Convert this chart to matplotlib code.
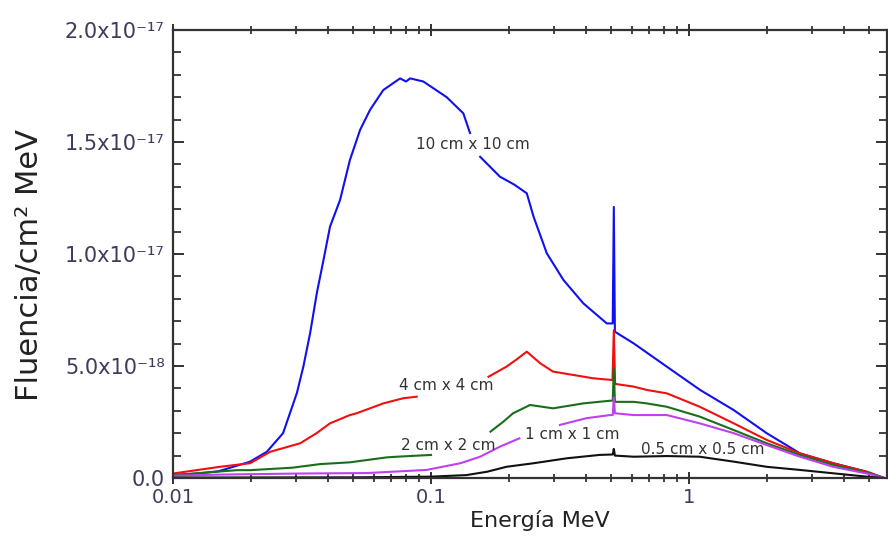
import numpy as np
import matplotlib
matplotlib.use("Agg")
import matplotlib.pyplot as plt
from matplotlib.ticker import MultipleLocator, FixedLocator, FuncFormatter, NullFormatter

nan = np.nan

# Energies in MeV, fluence in units of 1e-17 per cm^2 MeV
e_10 = [0.01, 0.0125, 0.015, 0.0177, 0.0199, 0.0231, 0.0267, 0.0292, 0.0302, 0.032, 0.034,
        0.0361, 0.0383, 0.0406, 0.0444, 0.0485, 0.0531, 0.058, 0.0653, 0.0759, 0.08, 0.083,
        0.0934, 0.115, 0.1334, 0.1416, 0.148, 0.155, 0.185, 0.21, 0.235, 0.2496, 0.281, 0.326,
        0.389, 0.48, 0.506, 0.511, 0.516, 0.61, 0.82, 1.104, 1.486, 2.0, 2.69, 3.62, 4.88, 5.7]
f_10 = [0.013, 0.02, 0.03, 0.055, 0.073, 0.117, 0.2, 0.33, 0.379, 0.497, 0.647,
        0.826, 0.973, 1.122, 1.241, 1.42, 1.554, 1.643, 1.732, 1.784, 1.77, 1.784,
        1.77, 1.70, 1.628, 1.54, nan, 1.434, 1.345, 1.31, 1.271, 1.167, 1.003, 0.884,
        0.78, 0.69, 0.69, 1.21, 0.653, 0.601, 0.497, 0.393, 0.304, 0.2, 0.11, 0.066, 0.028, 0.0]

e_4 = [0.01, 0.0152, 0.0199, 0.0238, 0.028, 0.0311, 0.036, 0.0406, 0.0485, 0.0515, 0.0653,
       0.078, 0.088, 0.12, 0.167, 0.196, 0.215, 0.235, 0.265, 0.297, 0.356, 0.426, 0.505,
       0.511, 0.517, 0.61, 0.686, 0.82, 1.1, 1.49, 2.0, 2.69, 3.62, 4.88, 5.7]
f_4 = [0.02, 0.05, 0.066, 0.117, 0.14, 0.155, 0.2, 0.244, 0.281, 0.289, 0.333,
       0.356, 0.363, nan, 0.452, 0.497, 0.53, 0.564, 0.512, 0.475, 0.46, 0.445, 0.4375,
       0.66, 0.42, 0.408, 0.393, 0.378, 0.318, 0.244, 0.17, 0.11, 0.066, 0.028, 0.0]

e_2 = [0.01, 0.0177, 0.0199, 0.029, 0.0371, 0.0485, 0.0673, 0.0737, 0.1, 0.13, 0.17, 0.19,
       0.208, 0.242, 0.297, 0.389, 0.494, 0.506, 0.511, 0.516, 0.61, 0.686, 0.82, 1.1, 1.49,
       2.0, 2.69, 3.62, 4.88, 5.7]
f_2 = [0.013, 0.035, 0.035, 0.046, 0.062, 0.07, 0.092, 0.095, 0.103, nan, 0.207, 0.25,
       0.289, 0.326, 0.311, 0.333, 0.345, 0.345, 0.49, 0.34, 0.34, 0.333, 0.318, 0.274, 0.214,
       0.155, 0.103, 0.058, 0.024, 0.0]

e_1 = [0.01, 0.015, 0.031, 0.0563, 0.096, 0.13, 0.155, 0.185, 0.22, 0.26, 0.316, 0.40,
       0.494, 0.506, 0.511, 0.516, 0.61, 0.686, 0.82, 1.1, 1.49, 2.0, 2.69, 3.62, 4.88, 5.7]
f_1 = [0.01, 0.015, 0.02, 0.022, 0.036, 0.066, 0.095, 0.14, 0.177, nan, 0.237, 0.267,
       0.281, 0.281, 0.36, 0.289, 0.281, 0.281, 0.281, 0.244, 0.2, 0.147, 0.095, 0.05, 0.02, 0.0]

e_05 = [0.01, 0.05, 0.1, 0.137, 0.165, 0.196, 0.25, 0.336, 0.45, 0.506, 0.511, 0.516,
        0.61, 0.82, 1.1, 1.49, 2.0, 2.69, 3.62, 4.88, 5.7]
f_05 = [0.002, 0.003, 0.006, 0.013, 0.028, 0.05, 0.066, 0.088, 0.103, 0.105, 0.13, 0.1,
        0.095, 0.098, 0.095, 0.073, 0.05, 0.036, 0.021, 0.006, 0.0]

series = [
    (e_10, f_10, "#1010f0", "10 cm x 10 cm", (0.1455, 1.487e-17)),
    (e_4, f_4, "#f01010", "4 cm x 4 cm", (0.1143, 0.415e-17)),
    (e_2, f_2, "#1a6e1a", "2 cm x 2 cm", (0.1166, 0.147e-17)),
    (e_1, f_1, "#c040f0", "1 cm x 1 cm", (0.352, 0.192e-17)),
    (e_05, f_05, "#111111", "0.5 cm x 0.5 cm", (1.133, 0.125e-17)),
]

x_major = [0.01, 0.1, 1]
x_major_labels = ["0.01", "0.1", "1"]
y_major = [0.0, 5e-18, 1.0e-17, 1.5e-17, 2.0e-17]
y_major_labels = ["0.0", "5.0x10⁻¹⁸", "1.0x10⁻¹⁷", "1.5x10⁻¹⁷", "2.0x10⁻¹⁷"]

plt.rcParams['font.family'] = ['DejaVu Sans']

fig = plt.figure(figsize=(8.88, 5.38), dpi=100)
ax = fig.add_axes([173 / 888, 1 - 478 / 538, (887 - 173) / 888, (478 - 30) / 538])

for e, f, c, lab, pos in series:
    ax.plot(e, np.array(f) * 1e-17, color=c, lw=1.5, solid_joinstyle='round')
    ax.text(pos[0], pos[1], lab, fontsize=11, color="#333333", ha='center', va='center')

ax.set_xscale('log')
ax.set_xlim(0.01, 5.85)
ax.set_ylim(0, 2.0e-17)

ax.set_xticks(x_major, x_major_labels)
ax.xaxis.set_minor_locator(FixedLocator([k * 10.0 ** d for d in (-2, -1, 0) for k in range(2, 10)]))
ax.xaxis.set_minor_formatter(NullFormatter())

ax.set_yticks(y_major, y_major_labels)
ax.yaxis.set_minor_locator(FixedLocator([i * 1e-18 for i in range(0, 21)]))

tick_col = "#3c3c5c"
ax.tick_params(axis='x', which='major', direction='inout', length=9, width=1.3,
               top=True, bottom=True, labelsize=14, labelcolor=tick_col, pad=3, color="#222222")
ax.tick_params(axis='x', which='minor', direction='inout', length=6, width=1.2,
               top=True, bottom=True, color="#222222")
ax.tick_params(axis='y', which='major', direction='in', length=8, width=1.3,
               left=True, right=True, labelsize=15, labelcolor=tick_col, pad=6, color="#222222")
ax.tick_params(axis='y', which='minor', direction='in', length=6, width=1.2,
               left=True, right=True, color="#222222")

for s in ax.spines.values():
    s.set_linewidth(1.6)
    s.set_color("#333333")

ax.set_xlabel("Energía MeV", fontsize=16, color="#222222", labelpad=0)
ax.set_ylabel("Fluencia/cm² MeV", fontsize=22, color="#222222")
ax.xaxis.set_label_coords((540 - 173) / (887 - 173), -(510 - 478) / 448)
ax.yaxis.set_label_coords(-(173 - 44) / (887 - 173), (478 - 265) / 448)

fig.savefig("out.png", dpi=100)
